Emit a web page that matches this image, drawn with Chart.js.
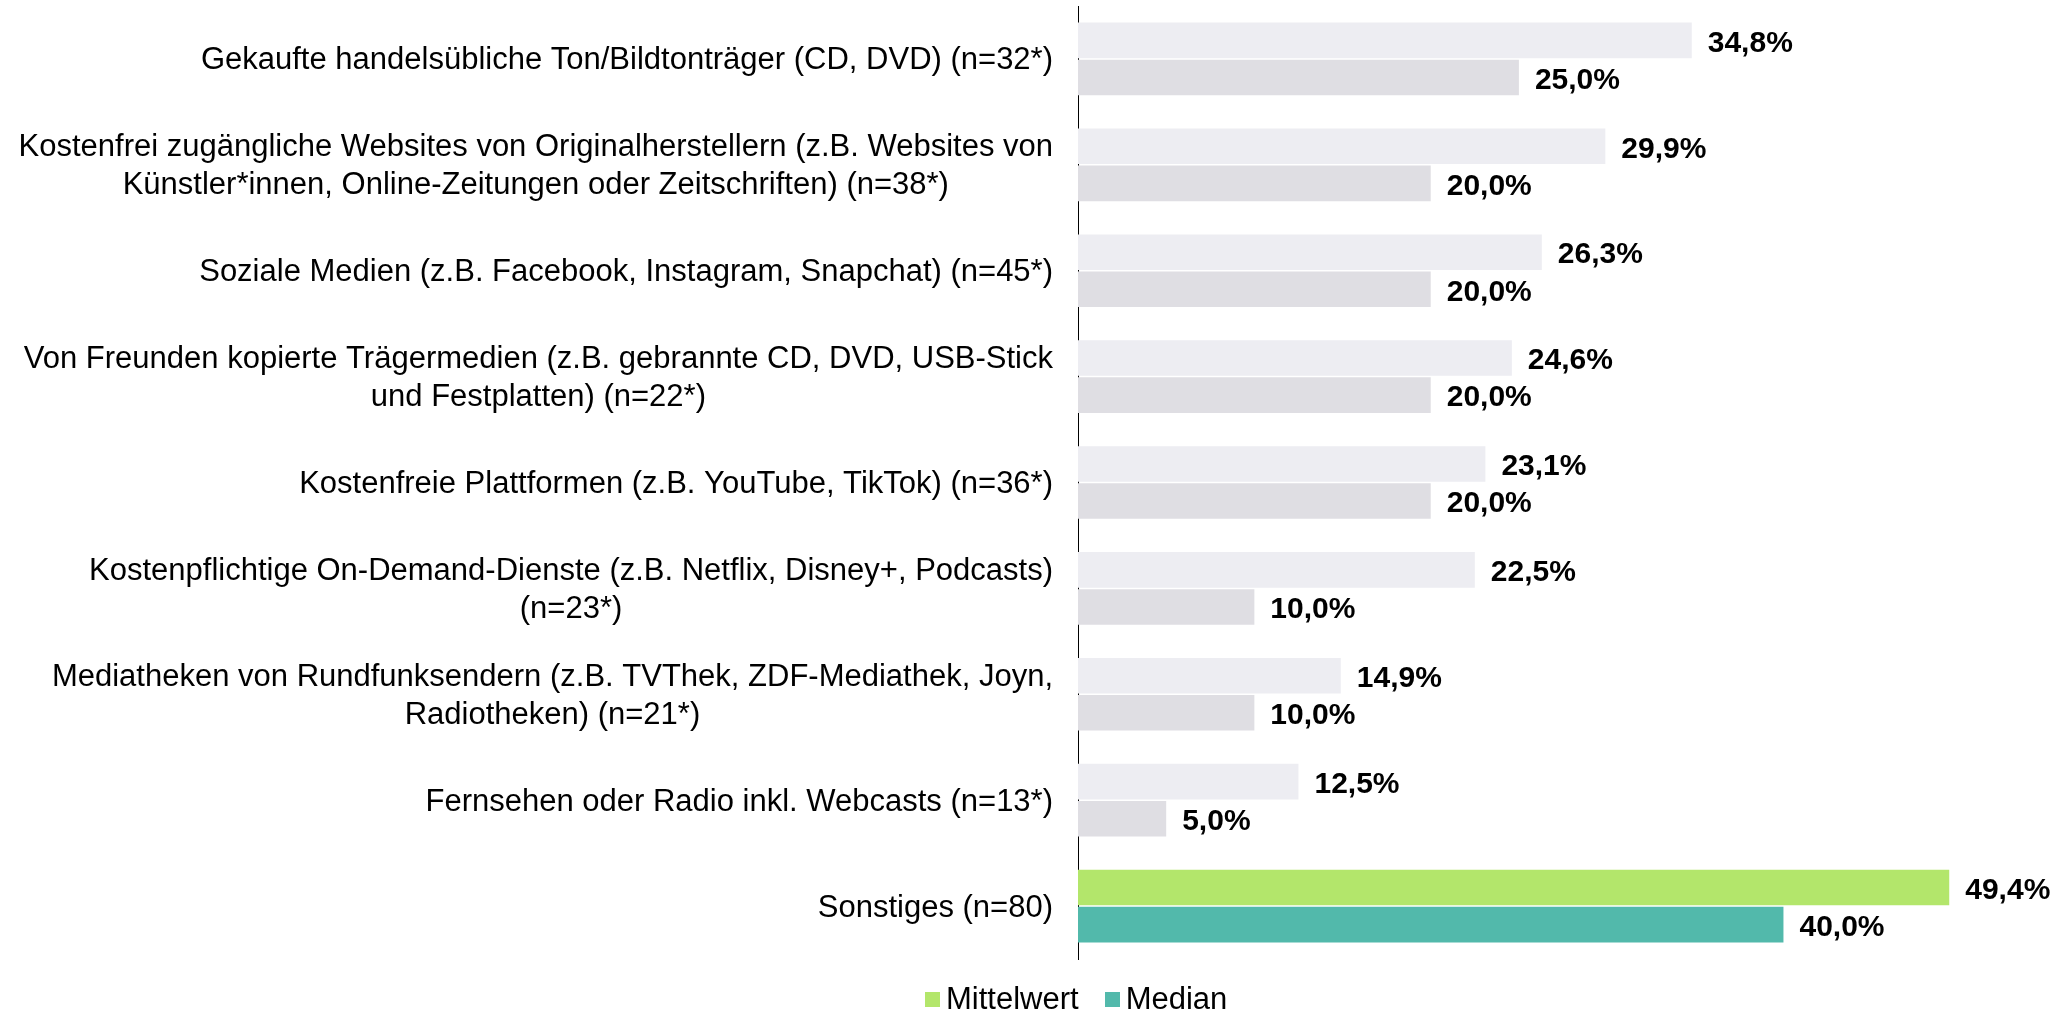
<!DOCTYPE html>
<html>
<head>
<meta charset="utf-8">
<script src="https://cdn.jsdelivr.net/npm/chart.js@4.4.1/dist/chart.umd.min.js"></script>
<style>
  html, body { margin: 0; padding: 0; background: #fff; }
  #wrap { position: relative; width: 2063px; height: 1013px; }
  #legend { position: absolute; left: 925px; top: 984px; height: 30px; display: flex; align-items: center;
            font: 31px "Liberation Sans", Arial, sans-serif; color: #000; }
  .item { display: flex; align-items: center; }
  .box { width: 15px; height: 15px; margin-right: 6px; }
</style>
</head>
<body>
<div id="wrap">
  <canvas id="c" width="2063" height="1013"></canvas>
  <div id="legend"></div>
</div>
<script>
const categories = [
  ["Gekaufte handelsübliche Ton/Bildtonträger (CD, DVD) (n=32*)"],
  ["Kostenfrei zugängliche Websites von Originalherstellern (z.B. Websites von", "Künstler*innen, Online-Zeitungen oder Zeitschriften) (n=38*)"],
  ["Soziale Medien (z.B. Facebook, Instagram, Snapchat) (n=45*)"],
  ["Von Freunden kopierte Trägermedien (z.B. gebrannte CD, DVD, USB-Stick", "und Festplatten) (n=22*)"],
  ["Kostenfreie Plattformen (z.B. YouTube, TikTok) (n=36*)"],
  ["Kostenpflichtige On-Demand-Dienste (z.B. Netflix, Disney+, Podcasts)", "(n=23*)"],
  ["Mediatheken von Rundfunksendern (z.B. TVThek, ZDF-Mediathek, Joyn,", "Radiotheken) (n=21*)"],
  ["Fernsehen oder Radio inkl. Webcasts (n=13*)"],
  ["Sonstiges (n=80)"]
];
const seriesNames = ["Mittelwert", "Median"];
const mittelwert = [34.8, 29.9, 26.3, 24.6, 23.1, 22.5, 14.9, 12.5, 49.4];
const median = [25.0, 20.0, 20.0, 20.0, 20.0, 10.0, 10.0, 5.0, 40.0];

const GREEN = '#B3E66B', TEAL = '#52B9AB', LIGHT1 = '#EDEDF2', LIGHT2 = '#DFDEE3';
const lastIdx = categories.length - 1;
const fmt = v => v.toFixed(1).replace('.', ',') + '%';
const FONT = '"Liberation Sans", Arial, sans-serif';

const labelPlugin = {
  id: 'customLabels',
  afterDatasetsDraw(chart) {
    const ctx = chart.ctx;
    ctx.save();
    ctx.fillStyle = '#000';
    ctx.textBaseline = 'middle';
    ctx.textAlign = 'left';
    ctx.font = 'bold 30px ' + FONT;
    chart.data.datasets.forEach((ds, di) => {
      const meta = chart.getDatasetMeta(di);
      meta.data.forEach((bar, i) => {
        ctx.fillText(fmt(ds.data[i]), bar.x + 16, bar.y + 3);
      });
    });
    const ys = chart.scales.y;
    ctx.font = '31px ' + FONT;
    ctx.textAlign = 'center';
    const right = chart.chartArea.left - 25;
    const lh = 38;
    chart.data.labels.forEach((lines, i) => {
      const cy = ys.getPixelForValue(i);
      const w = Math.max(...lines.map(l => ctx.measureText(l).width));
      const cx = right - w / 2;
      const y0 = cy - (lines.length - 1) * lh / 2;
      lines.forEach((l, k) => ctx.fillText(l, cx, y0 + k * lh + 2));
    });
    ctx.restore();
  }
};

new Chart(document.getElementById('c'), {
  type: 'bar',
  data: {
    labels: categories,
    datasets: [
      { label: seriesNames[0], data: mittelwert,
        backgroundColor: c => c.dataIndex === lastIdx ? GREEN : LIGHT1 },
      { label: seriesNames[1], data: median,
        backgroundColor: c => c.dataIndex === lastIdx ? TEAL : LIGHT2 }
    ]
  },
  options: {
    indexAxis: 'y',
    responsive: false,
    animation: false,
    layout: { padding: { top: 6, bottom: 54, left: 0, right: 15 } },
    datasets: { bar: { categoryPercentage: 0.7, barPercentage: 0.96, borderWidth: 0 } },
    plugins: { legend: { display: false }, tooltip: { enabled: false } },
    scales: {
      x: { display: false, min: 0, max: 55 },
      y: {
        grid: { display: false },
        border: { display: true, color: '#000', width: 1 },
        ticks: { display: false },
        afterFit: s => { s.width = 1078; }
      }
    }
  },
  plugins: [labelPlugin]
});

const legend = document.getElementById('legend');
[GREEN, TEAL].forEach((col, i) => {
  const it = document.createElement('div');
  it.className = 'item';
  if (i > 0) it.style.marginLeft = '26px';
  const b = document.createElement('div');
  b.className = 'box';
  b.style.background = col;
  const t = document.createElement('span');
  t.textContent = seriesNames[i];
  it.appendChild(b); it.appendChild(t);
  legend.appendChild(it);
});
</script>
</body>
</html>
